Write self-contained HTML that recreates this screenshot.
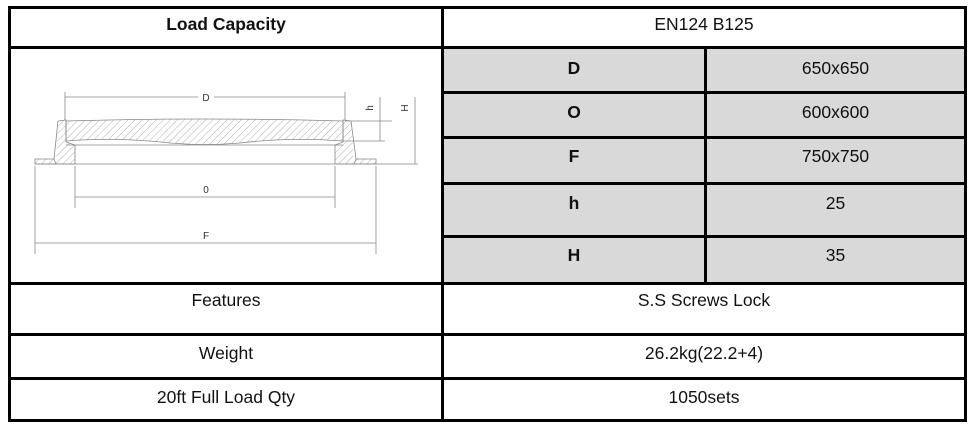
<!DOCTYPE html>
<html><head><style>
body{margin:0;width:974px;height:429px;background:#fff;position:relative;font-family:"Liberation Sans",Arial,sans-serif;overflow:hidden}
.l{position:absolute;background:#000}
.g{position:absolute;background:#d9d9d9}
.t{position:absolute;text-align:center;font-size:17.5px;color:#111}
.b{font-weight:bold}
</style></head><body>
<div class="g" style="left:443px;top:49px;width:522px;height:234px"></div>
<div class="l" style="left:8px;top:6px;width:959px;height:3px"></div>
<div class="l" style="left:8px;top:46px;width:959px;height:3px"></div>
<div class="l" style="left:442px;top:91px;width:525px;height:3px"></div>
<div class="l" style="left:442px;top:136px;width:525px;height:3px"></div>
<div class="l" style="left:442px;top:182px;width:525px;height:3px"></div>
<div class="l" style="left:442px;top:235px;width:525px;height:3px"></div>
<div class="l" style="left:8px;top:282px;width:959px;height:3px"></div>
<div class="l" style="left:8px;top:333px;width:959px;height:3px"></div>
<div class="l" style="left:8px;top:377px;width:959px;height:3px"></div>
<div class="l" style="left:8px;top:419px;width:959px;height:3px"></div>
<div class="l" style="left:8px;top:6px;width:3px;height:416px"></div>
<div class="l" style="left:441px;top:6px;width:3px;height:416px"></div>
<div class="l" style="left:704px;top:46px;width:3px;height:238px"></div>
<div class="l" style="left:964px;top:6px;width:3px;height:416px"></div>

<div class="t b" style="left:11px;width:430px;top:14px">Load Capacity</div>
<div class="t" style="left:444px;width:520px;top:14px">EN124 B125</div>
<div class="t b" style="left:444px;width:260px;top:58px">D</div>
<div class="t" style="left:707px;width:257px;top:58px">650x650</div>
<div class="t b" style="left:444px;width:260px;top:102px">O</div>
<div class="t" style="left:707px;width:257px;top:102px">600x600</div>
<div class="t b" style="left:444px;width:260px;top:146px">F</div>
<div class="t" style="left:707px;width:257px;top:146px">750x750</div>
<div class="t b" style="left:444px;width:260px;top:193px">h</div>
<div class="t" style="left:707px;width:257px;top:193px">25</div>
<div class="t b" style="left:444px;width:260px;top:245px">H</div>
<div class="t" style="left:707px;width:257px;top:245px">35</div>
<div class="t" style="left:11px;width:430px;top:290px">Features</div>
<div class="t" style="left:444px;width:520px;top:290px">S.S Screws Lock</div>
<div class="t" style="left:11px;width:430px;top:343px">Weight</div>
<div class="t" style="left:444px;width:520px;top:343px">26.2kg(22.2+4)</div>
<div class="t" style="left:11px;width:430px;top:387px">20ft Full Load Qty</div>
<div class="t" style="left:444px;width:520px;top:387px">1050sets</div>

<svg style="position:absolute;left:0;top:0" width="974" height="429">
<defs><pattern id="h" width="5" height="5" patternUnits="userSpaceOnUse" patternTransform="rotate(45)"><line x1="0" y1="0" x2="0" y2="5" stroke="#999" stroke-width="0.8"/></pattern></defs>
<g stroke="#888" stroke-width="0.8" fill="none">
<path d="M58 121 L66 120 L66 142 L75 145 L75 164 L56 164 L54 159 L35 159 L35 164 L56 164" fill="url(#h)"/>
<path d="M351 121 L343 120 L343 142 L335 145 L335 164 L354 164 L356 159 L376 159 L376 164 L354 164" fill="url(#h)"/>
<path d="M58 121 L54 159 M351 121 L356 159"/>
<path d="M66 121 Q205 117 343 121 L343 141 Q290 137 240 143 Q205 146 170 143 Q120 137 66 141 Z" fill="url(#h)"/>
<line x1="66" y1="145" x2="343" y2="145"/>
<line x1="35" y1="164" x2="376" y2="164"/>
<line x1="65" y1="97" x2="198" y2="97"/><line x1="214" y1="97" x2="345" y2="97"/>
<line x1="65" y1="92" x2="65" y2="120"/><line x1="345" y1="92" x2="345" y2="120"/>
<line x1="75" y1="166" x2="75" y2="208"/><line x1="335" y1="166" x2="335" y2="208"/>
<line x1="75" y1="197" x2="335" y2="197"/>
<line x1="35" y1="166" x2="35" y2="254"/><line x1="376" y1="166" x2="376" y2="254"/>
<line x1="35" y1="243" x2="376" y2="243"/>
<line x1="345" y1="121" x2="392" y2="121"/><line x1="343" y1="141" x2="385" y2="141"/>
<line x1="380" y1="97" x2="380" y2="141"/>
<line x1="376" y1="164" x2="418" y2="164"/>
<line x1="415" y1="97" x2="415" y2="164"/>
</g>
<g font-family="Liberation Sans,sans-serif" font-size="10" fill="#333" text-anchor="middle">
<text x="206" y="101">D</text><text x="206" y="193">0</text><text x="206" y="239">F</text>
<text transform="translate(373,108) rotate(-90)">h</text>
<text transform="translate(408,108) rotate(-90)">H</text>
</g>
</svg>
</body></html>
